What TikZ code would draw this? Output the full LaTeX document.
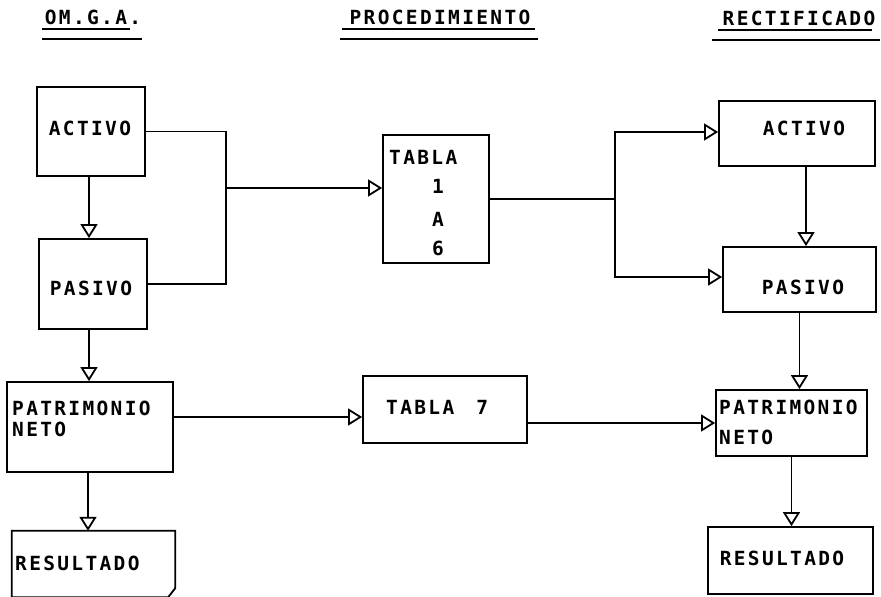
\documentclass[tikz,border=0pt]{standalone}
\usepackage{fontspec}
\setmonofont{DejaVu Sans Mono}[LetterSpace=12]
\usetikzlibrary{arrows.meta,calc}
\begin{document}
\begin{tikzpicture}[x=1pt,y=-1pt,
  every node/.style={font=\ttfamily\bfseries\fontsize{19.5}{22}\selectfont},
  box/.style={draw, line width=1.8pt, inner sep=0pt},
  lbl/.style={inner sep=0pt, text height=14pt, text depth=0pt},
  ln/.style={line width=1.8pt},
  arr/.style={line width=1.8pt, -{Triangle[open, length=14pt, width=17pt, line width=1.8pt]}},
  uline/.style={line width=1.8pt}]
\useasboundingbox (0,0) rectangle (881,597);

% headings
\node[lbl] (h1) at (93,17.5) {OM.G.A.};
\node[lbl] (h2) at (440,17) {PROCEDIMIENTO};
\node[lbl] (h3) at (799,18) {RECTIFICADO};
\draw[uline] (42,29) -- (130,29);
\draw[uline] (42,39) -- (142,39);
\draw[uline] (342,29) -- (535,29);
\draw[uline] (340,39) -- (538,39);
\draw[uline] (718,30) -- (872,30);
\draw[uline] (712,40) -- (880,40);

% left column boxes
\node[box, minimum width=108pt, minimum height=89pt] (actL) at (91,131.5) {};
\node[box, minimum width=108pt, minimum height=90pt] (pasL) at (93,284) {};
\node[box, minimum width=166pt, minimum height=90pt] (patL) at (90,427) {};
\node[inner sep=0pt, minimum width=163pt, minimum height=66pt] (resL) at (93.5,564) {};
\draw[line width=1.8pt] (resL.north west) -- (resL.north east) -- ($(resL.south east)+(0,-9)$)
  -- ($(resL.south east)+(-7,0)$) -- (resL.south west) -- cycle;

\node[lbl] at (90,128) {ACTIVO};
\node[lbl] at (91,288) {PASIVO};
\node[lbl, anchor=west] at (12,408) {PATRIMONIO};
\node[lbl, anchor=west] at (12,429) {NETO};
\node[lbl, anchor=west] at (15,563) {RESULTADO};

% middle boxes
\node[box, minimum width=106pt, minimum height=128pt] (tab16) at (436,199) {};
\node[lbl, anchor=west] at (389,157) {TABLA};
\node[lbl] at (438,186) {1};
\node[lbl] at (438,219) {A};
\node[lbl] at (438,248) {6};
\node[box, minimum width=164pt, minimum height=67pt] (tab7) at (445,409.5) {};
\node[lbl, anchor=west] at (386,407) {TABLA\hspace{22pt}7};

% right column boxes
\node[box, minimum width=156pt, minimum height=65pt] (actR) at (797,133.5) {};
\node[box, minimum width=153pt, minimum height=65pt] (pasR) at (799.5,279.5) {};
\node[box, minimum width=151pt, minimum height=66pt] (patR) at (791.5,423) {};
\node[box, minimum width=165pt, minimum height=67pt] (resR) at (790.5,560.5) {};
\node[lbl] at (804,128) {ACTIVO};
\node[lbl] at (803,287) {PASIVO};
\node[lbl, anchor=west] at (719,407) {PATRIMONIO};
\node[lbl, anchor=west] at (719,437) {NETO};
\node[lbl] at (782,558) {RESULTADO};

% connectors left
\draw[arr] ([xshift=-2pt]actL.south) -- ([xshift=-2pt]actL.south |- pasL.north);
\draw[arr] ([xshift=-4pt]pasL.south) -- ([xshift=-4pt]pasL.south |- patL.north);
\draw[arr] ([xshift=-2pt]patL.south) -- ([xshift=-2pt]patL.south |- resL.north);
\coordinate (jL) at (226,188);
\draw[ln] (actL.east) -| (jL) |- (pasL.east);
\draw[arr] (jL) -- (jL -| tab16.west);
\draw[arr] ([yshift=10pt]patL.east) -- ([yshift=10pt]patL.east -| tab7.west);

% connectors right
\coordinate (jR) at (615,199);
\draw[ln] (tab16.east |- jR) -- (jR);
\draw[arr] (jR) |- ([yshift=1.5pt]actR.west);
\draw[arr] (jR) |- ([yshift=2.5pt]pasR.west);
\draw[arr] ([xshift=9pt]actR.south) -- ([xshift=9pt]actR.south |- pasR.north);
\draw[arr] (pasR.south) -- (pasR.south |- patR.north);
\draw[arr] (patR.south) -- (patR.south |- resR.north);
\draw[arr] (tab7.east |- patR.west) -- (patR.west);
\end{tikzpicture}
\end{document}
